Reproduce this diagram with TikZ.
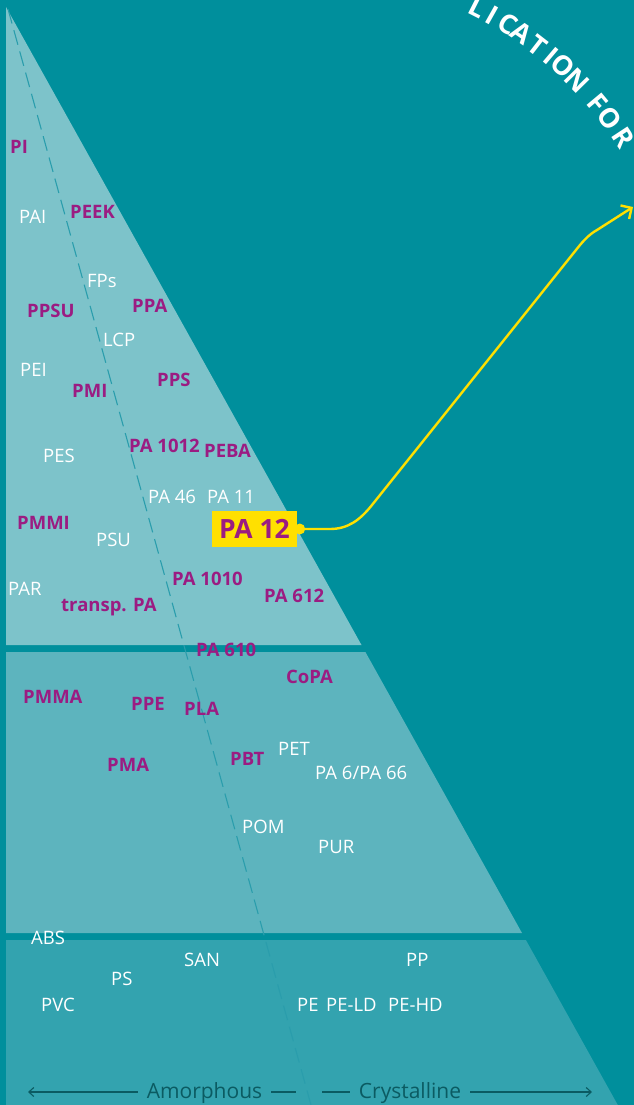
\documentclass[tikz,border=0pt]{standalone}
\usepackage{fontspec}
\setmainfont{Open Sans}
\usetikzlibrary{arrows.meta}
\definecolor{bgteal}{HTML}{008F9C}
\definecolor{bandA}{HTML}{7DC3CA}
\definecolor{bandB}{HTML}{5DB4BE}
\definecolor{bandC}{HTML}{33A3AF}
\definecolor{plum}{HTML}{9B1C82}
\definecolor{sun}{HTML}{FFE000}
\definecolor{dashc}{HTML}{2A9DAC}
\definecolor{axisc}{HTML}{0B5B62}
\begin{document}
\begin{tikzpicture}[x=1pt,y=-1pt,
  lab/.style={anchor=west, inner sep=0pt, text height=13.2pt, text depth=0pt},
  pb/.style={lab, text=plum, font=\fontsize{18.5}{18.5}\selectfont\bfseries},
  wr/.style={lab, text=white, font=\fontsize{18.5}{18.5}\selectfont},
  arcl/.style={anchor=center, inner sep=0pt, text height=19pt, text depth=0pt, text=white, font=\fontsize{27}{27}\selectfont\bfseries},
  axislab/.style={inner xsep=9pt, inner ysep=0pt, text height=12pt, text depth=0pt, text=axisc, font=\fontsize{21}{21}\selectfont},
  axline/.style={draw=axisc, line width=1.1pt},
  conn/.style={draw=sun, line width=2.4pt}]
\useasboundingbox (0,0) rectangle (634,1105);
\clip (0,0) rectangle (634,1105);
\fill[bgteal] (0,0) rectangle (634,1105);
% bands
\fill[bandA] (6,7) -- (361.5,645) -- (6,645) -- cycle;
\fill[bandB] (6,652) -- (365.4,652) -- (522,933) -- (6,933) -- cycle;
\fill[bandC] (6,940) -- (525.9,940) -- (617.8,1105) -- (6,1105) -- cycle;
% dashed divider
\draw[dashc, line width=1.1pt, dash pattern=on 15pt off 7pt] (8,9) -- (311,1105);
% curved title text
\foreach \ch/\a [count=\i] in {L/63.1, I/60.6, C/57.9, A/55.4, T/52.3, I/49.8, O/47.5, N/44.4, F/39.9, O/36.9, R/33.4}
  \node[arcl, rotate=\a-90] (arc\i) at ({305+381*cos(\a)},{347-381*sin(\a)}) {\ch};
% top band labels
\node[pb] (pi) at (10,147) {PI};
\node[wr] (pai) at (19,217) {PAI};
\node[pb] (peek) at (70,212) {PEEK};
\node[wr] (fps) at (87,281) {FPs};
\node[pb] (ppsu) at (27,311) {PPSU};
\node[pb] (ppa) at (132,306) {PPA};
\node[wr] (lcp) at (103,340) {LCP};
\node[wr] (pei) at (20,370) {PEI};
\node[pb] (pmi) at (72,391) {PMI};
\node[pb] (pps) at (157,380) {PPS};
\node[wr] (pes) at (43,456) {PES};
\node[pb] (pa1012) at (129,446) {PA 1012};
\node[pb] (peba) at (204,451) {PEBA};
\node[wr] (pa46) at (148,497) {PA 46};
\node[wr] (pa11) at (207,497) {PA 11};
\node[pb] (pmmi) at (17,523) {PMMI};
\node[wr] (psu) at (96,540) {PSU};
\node[wr] (par) at (8,589) {PAR};
\node[pb] (transp) at (61,605) {transp. PA};
\node[pb] (pa1010) at (172,579) {PA 1010};
\node[pb] (pa612) at (264,596) {PA 612};
\node[pb] (pa610) at (196,650) {PA 610};
% PA 12 highlight
\node[fill=sun, text=plum, font=\fontsize{26.5}{26.5}\selectfont\bfseries, minimum width=85pt, minimum height=36pt, inner sep=0pt, text height=18.9pt, text depth=0pt] (pa12) at (254.5,529) {PA 12};
% middle band labels
\node[pb] (copa) at (286,677) {CoPA};
\node[pb] (pmma) at (23,697) {PMMA};
\node[pb] (ppe) at (131,704) {PPE};
\node[pb] (pla) at (184,709) {PLA};
\node[pb] (pbt) at (230,759) {PBT};
\node[wr] (pet) at (278,749) {PET};
\node[wr] (pa6) at (315,773) {PA 6/PA 66};
\node[pb] (pma) at (107,765) {PMA};
\node[wr] (pom) at (242,827) {POM};
\node[wr] (pur) at (318,847) {PUR};
% bottom band labels
\node[wr] (abs) at (31,938) {ABS};
\node[wr] (san) at (184,960) {SAN};
\node[wr] (ps) at (111,979) {PS};
\node[wr] (pvc) at (41,1005) {PVC};
\node[wr] (pp) at (406,960) {PP};
\node[wr] (pe) at (297,1005) {PE};
\node[wr] (peld) at (326,1005) {PE-LD};
\node[wr] (pehd) at (388,1005) {PE-HD};
% yellow connector
\coordinate (tip) at (633,207);
\fill[sun] (pa12.east) ++(2.5,0) circle (5.5pt);
\draw[conn, -{Straight Barb[length=8pt,width=16pt]}] (pa12.east) -- (330,529) .. controls (348,529) and (360,520) .. (372,505) -- (580,245) .. controls (586,238) and (590,234) .. (597,230) -- (tip);
% axis
\node[axislab] (amo) at (204.5,1092) {Amorphous};
\node[axislab] (cry) at (410,1092) {Crystalline};
\coordinate (aL) at (28,1092);
\coordinate (aR) at (592,1092);
\coordinate (aM1) at (296,1092);
\coordinate (aM2) at (322,1092);
\draw[axline, -{Straight Barb[length=5pt,width=9pt]}] (amo.west) -- (aL);
\draw[axline] (amo.east) -- (aM1);
\draw[axline] (cry.west) -- (aM2);
\draw[axline, -{Straight Barb[length=5pt,width=9pt]}] (cry.east) -- (aR);
\end{tikzpicture}
\end{document}
